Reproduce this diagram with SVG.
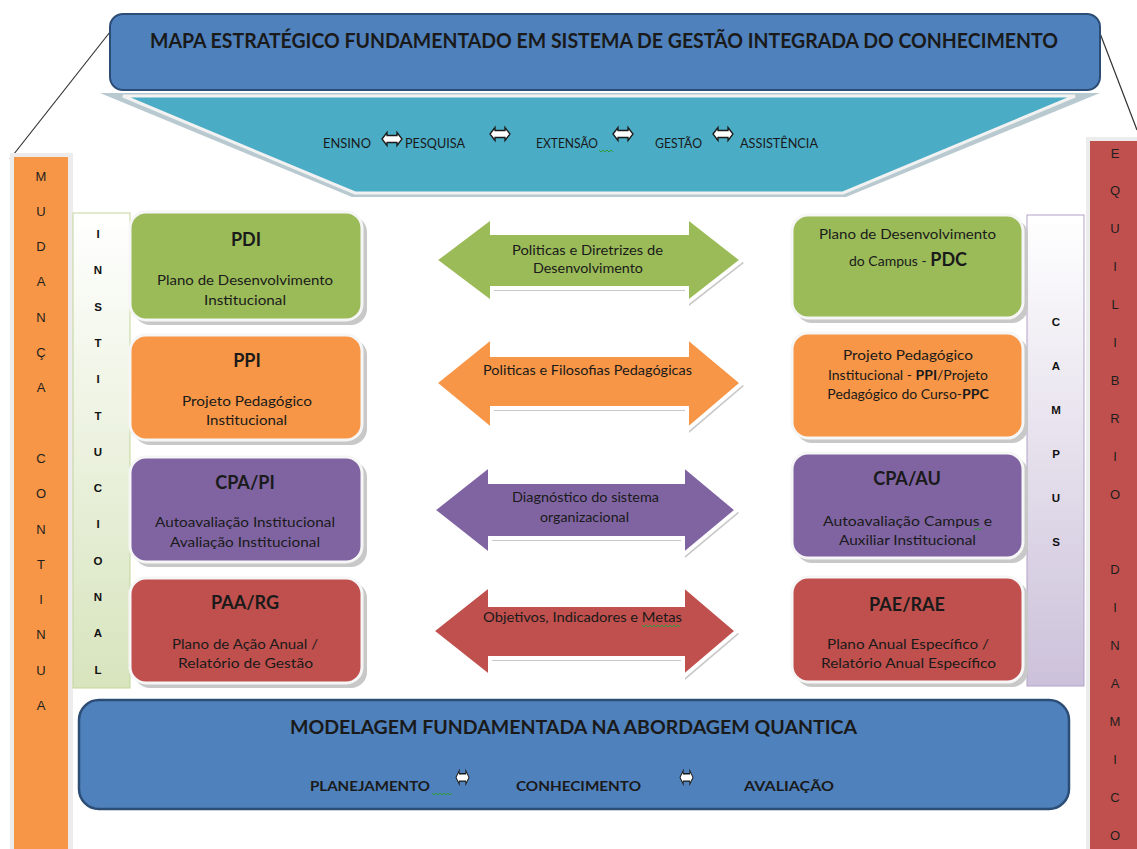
<svg xmlns="http://www.w3.org/2000/svg" width="1137" height="849" viewBox="0 0 1137 849">
<style>
.t{font-family:Lato,"Open Sans","Liberation Sans",sans-serif;fill:#1a1a1a}
.b{font-weight:bold}
.s{font-family:"Liberation Sans",Arial,sans-serif;font-size:13px;fill:#1e1e1e;text-anchor:middle}
.sb{font-family:"Liberation Sans",Arial,sans-serif;font-size:11.5px;font-weight:bold;fill:#111;text-anchor:middle}
.m{text-anchor:middle}
.sh{fill:#c8c8c8}
.bx{stroke:#f6f6f6;stroke-width:3}
.ar{stroke:#ffffff;stroke-width:4;stroke-linejoin:miter}
.ico{fill:#ffffff;stroke:#1a1a1a;stroke-width:1.3}
.sq{fill:none;stroke:#2f9a3a;stroke-width:1}
</style>
<defs>
<linearGradient id="gInst" x1="0" y1="0" x2="0" y2="1"><stop offset="0" stop-color="#ffffff"/><stop offset="1" stop-color="#d7e4bd"/></linearGradient>
<linearGradient id="gCamp" x1="0" y1="0" x2="0" y2="1"><stop offset="0" stop-color="#ffffff"/><stop offset="1" stop-color="#ccc1da"/></linearGradient>
<path id="ico" d="M0,8 L5,1.5 L5,4.5 L15,4.5 L15,1.5 L20,8 L15,14.5 L15,11.5 L5,11.5 L5,14.5 Z"/>
</defs>
<rect width="1137" height="849" fill="#ffffff"/>

<g id="connectors">
<line x1="110" y1="32" x2="10" y2="159" stroke="#333" stroke-width="1.2"/>
<line x1="1098" y1="28" x2="1137" y2="130" stroke="#333" stroke-width="1.2"/>
</g>

<g id="title-banner">
<rect x="110" y="14" width="990" height="76" rx="13" fill="#4f81bd" stroke="#2c4d75" stroke-width="2"/>
<text class="t b" x="150" y="48" font-size="20" textLength="908" lengthAdjust="spacingAndGlyphs">MAPA ESTRATÉGICO FUNDAMENTADO EM SISTEMA DE GESTÃO INTEGRADA DO CONHECIMENTO</text>
</g>

<g id="funnel">
<polygon points="100,93 1100,93 846,197 352,197" fill="#b9c9d0"/>
<polygon points="123,96 1075,96 843,193 355,193" fill="#4bacc6" stroke="#f2f2f2" stroke-width="3"/>
<text class="t" x="323" y="148" font-size="13" textLength="48" lengthAdjust="spacingAndGlyphs">ENSINO</text>
<use href="#ico" class="ico" x="382" y="131"/>
<text class="t" x="405" y="148" font-size="13" textLength="60" lengthAdjust="spacingAndGlyphs">PESQUISA</text>
<use href="#ico" class="ico" x="490" y="126"/>
<text class="t" x="536" y="148" font-size="13" textLength="62" lengthAdjust="spacingAndGlyphs">EXTENSÃO</text>
<path class="sq" d="M599,150 l2,2 l2,-2 l2,2 l2,-2 l2,2 l2,-2 l2,2"/>
<use href="#ico" class="ico" x="613" y="126"/>
<text class="t" x="655" y="148" font-size="13" textLength="47" lengthAdjust="spacingAndGlyphs">GESTÃO</text>
<use href="#ico" class="ico" x="713" y="126"/>
<text class="t" x="740" y="148" font-size="13" textLength="78" lengthAdjust="spacingAndGlyphs">ASSISTÊNCIA</text>
</g>

<g id="mudanca-continua">
<rect x="10" y="153" width="63" height="696" fill="#ececec"/>
<rect x="14" y="157" width="54" height="692" fill="#f79646"/>
<text class="s" x="41" y="180.5">M</text>
<text class="s" x="41" y="215.8">U</text>
<text class="s" x="41" y="251.1">D</text>
<text class="s" x="41" y="286.4">A</text>
<text class="s" x="41" y="321.7">N</text>
<text class="s" x="41" y="357">Ç</text>
<text class="s" x="41" y="392.3">A</text>
<text class="s" x="41" y="462.9">C</text>
<text class="s" x="41" y="498.2">O</text>
<text class="s" x="41" y="533.5">N</text>
<text class="s" x="41" y="568.8">T</text>
<text class="s" x="41" y="604.1">I</text>
<text class="s" x="41" y="639.4">N</text>
<text class="s" x="41" y="674.7">U</text>
<text class="s" x="41" y="710">A</text>
</g>

<g id="equilibrio-dinamico">
<rect x="1086" y="137" width="51" height="712" fill="#ececec"/>
<rect x="1090" y="141" width="47" height="708" fill="#c0504d"/>
<text class="s" x="1115" y="157.5">E</text>
<text class="s" x="1115" y="195.4">Q</text>
<text class="s" x="1115" y="233.3">U</text>
<text class="s" x="1115" y="271.2">I</text>
<text class="s" x="1115" y="309.1">L</text>
<text class="s" x="1115" y="347">I</text>
<text class="s" x="1115" y="384.9">B</text>
<text class="s" x="1115" y="422.8">R</text>
<text class="s" x="1115" y="460.7">I</text>
<text class="s" x="1115" y="498.6">O</text>
<text class="s" x="1115" y="574.4">D</text>
<text class="s" x="1115" y="612.3">I</text>
<text class="s" x="1115" y="650.2">N</text>
<text class="s" x="1115" y="688.1">A</text>
<text class="s" x="1115" y="726">M</text>
<text class="s" x="1115" y="763.9">I</text>
<text class="s" x="1115" y="801.8">C</text>
<text class="s" x="1115" y="839.7">O</text>
</g>

<g id="institucional">
<rect x="73" y="213" width="57" height="475" fill="url(#gInst)" stroke="#c3d69b" stroke-width="1"/>
<text class="sb" x="98" y="238">I</text>
<text class="sb" x="98" y="274.3">N</text>
<text class="sb" x="98" y="310.6">S</text>
<text class="sb" x="98" y="346.9">T</text>
<text class="sb" x="98" y="383.2">I</text>
<text class="sb" x="98" y="419.5">T</text>
<text class="sb" x="98" y="455.8">U</text>
<text class="sb" x="98" y="492.1">C</text>
<text class="sb" x="98" y="528.4">I</text>
<text class="sb" x="98" y="564.7">O</text>
<text class="sb" x="98" y="601">N</text>
<text class="sb" x="98" y="637.3">A</text>
<text class="sb" x="98" y="673.6">L</text>
</g>

<g id="campus">
<rect x="1027" y="215" width="57" height="471" fill="url(#gCamp)" stroke="#b3a2c7" stroke-width="1"/>
<text class="sb" x="1056" y="325.5">C</text>
<text class="sb" x="1056" y="369.5">A</text>
<text class="sb" x="1056" y="413.5">M</text>
<text class="sb" x="1056" y="457.5">P</text>
<text class="sb" x="1056" y="501.5">U</text>
<text class="sb" x="1056" y="545.5">S</text>
</g>

<g id="pdi">
<rect class="sh" x="134" y="216" width="233" height="109" rx="16"/>
<rect class="bx" x="130" y="212" width="232" height="108" rx="16" fill="#9bbb59"/>
<text class="t b m" x="246" y="246" font-size="18">PDI</text>
<text class="t" x="157" y="285" font-size="14" textLength="176" lengthAdjust="spacingAndGlyphs">Plano de Desenvolvimento</text>
<text class="t" x="204" y="305" font-size="14" textLength="82" lengthAdjust="spacingAndGlyphs">Institucional</text>
</g>

<g id="ppi">
<rect class="sh" x="134" y="339" width="233" height="106" rx="16"/>
<rect class="bx" x="130" y="335" width="232" height="105" rx="16" fill="#f79646"/>
<text class="t b m" x="247" y="367" font-size="18">PPI</text>
<text class="t" x="182" y="406" font-size="14" textLength="130" lengthAdjust="spacingAndGlyphs">Projeto Pedagógico</text>
<text class="t" x="206" y="425" font-size="14" textLength="81" lengthAdjust="spacingAndGlyphs">Institucional</text>
</g>

<g id="cpa-pi">
<rect class="sh" x="134" y="461" width="233" height="106" rx="16"/>
<rect class="bx" x="130" y="457" width="232" height="105" rx="16" fill="#8064a2"/>
<text class="t b m" x="245" y="489" font-size="18">CPA/PI</text>
<text class="t" x="155" y="527" font-size="14" textLength="180" lengthAdjust="spacingAndGlyphs">Autoavaliação Institucional</text>
<text class="t" x="170" y="547" font-size="14" textLength="150" lengthAdjust="spacingAndGlyphs">Avaliação Institucional</text>
</g>

<g id="paa-rg">
<rect class="sh" x="134" y="582" width="233" height="106" rx="16"/>
<rect class="bx" x="130" y="578" width="232" height="105" rx="16" fill="#c0504d"/>
<text class="t b m" x="245" y="609" font-size="18">PAA/RG</text>
<text class="t" x="172" y="649" font-size="14" textLength="146" lengthAdjust="spacingAndGlyphs">Plano de Ação Anual /</text>
<text class="t" x="178" y="668" font-size="14" textLength="135" lengthAdjust="spacingAndGlyphs">Relatório de Gestão</text>
</g>

<g id="pdc">
<rect class="sh" x="796" y="219" width="232" height="104" rx="16"/>
<rect class="bx" x="792" y="215" width="231" height="103" rx="16" fill="#9bbb59"/>
<text class="t" x="819" y="239" font-size="14" textLength="177" lengthAdjust="spacingAndGlyphs">Plano de Desenvolvimento</text>
<text class="t m" x="908" y="266" font-size="14">do Campus - <tspan class="b" font-size="18">PDC</tspan></text>
</g>

<g id="ppi-ppc">
<rect class="sh" x="796" y="337" width="232" height="106" rx="16"/>
<rect class="bx" x="792" y="333" width="231" height="105" rx="16" fill="#f79646"/>
<text class="t" x="843" y="360" font-size="14" textLength="130" lengthAdjust="spacingAndGlyphs">Projeto Pedagógico</text>
<text class="t m" x="908" y="380" font-size="14">Institucional - <tspan class="b">PPI</tspan>/Projeto</text>
<text class="t m" x="908" y="399" font-size="14">Pedagógico do Curso-<tspan class="b">PPC</tspan></text>
</g>

<g id="cpa-au">
<rect class="sh" x="796" y="457" width="232" height="106" rx="16"/>
<rect class="bx" x="792" y="453" width="231" height="105" rx="16" fill="#8064a2"/>
<text class="t b m" x="907" y="485" font-size="18">CPA/AU</text>
<text class="t" x="823" y="526" font-size="14" textLength="169" lengthAdjust="spacingAndGlyphs">Autoavaliação Campus  e</text>
<path class="sq" d="M974,528 l2,2 l2,-2 l2,2 l2,-2"/>
<text class="t" x="839" y="545" font-size="14" textLength="137" lengthAdjust="spacingAndGlyphs">Auxiliar Institucional</text>
</g>

<g id="pae-rae">
<rect class="sh" x="796" y="581" width="232" height="106" rx="16"/>
<rect class="bx" x="792" y="577" width="231" height="105" rx="16" fill="#c0504d"/>
<text class="t b m" x="907" y="611" font-size="18">PAE/RAE</text>
<text class="t" x="827" y="649" font-size="14" textLength="162" lengthAdjust="spacingAndGlyphs">Plano Anual Específico /</text>
<text class="t" x="821" y="668" font-size="14" textLength="175" lengthAdjust="spacingAndGlyphs">Relatório Anual Específico</text>
</g>

<g id="arrow-politicas-diretrizes">
<polygon class="sh" transform="translate(2,3)" points="435,260 492,217 492,233 687,233 687,217 742,260 687,303 687,288 492,288 492,303"/>
<polygon class="ar" fill="#9bbb59" points="435,260 492,217 492,233 687,233 687,217 742,260 687,303 687,288 492,288 492,303"/>
<text class="t" x="512" y="255" font-size="12.5" textLength="151" lengthAdjust="spacingAndGlyphs">Politicas e Diretrizes de</text>
<text class="t" x="533" y="273" font-size="12.5" textLength="110" lengthAdjust="spacingAndGlyphs">Desenvolvimento</text>
</g>

<g id="arrow-politicas-filosofias">
<polygon class="sh" transform="translate(2,3)" points="435,383 492,337 492,355 687,355 687,337 742,383 687,430 687,408 492,408 492,430"/>
<polygon class="ar" fill="#f79646" points="435,383 492,337 492,355 687,355 687,337 742,383 687,430 687,408 492,408 492,430"/>
<text class="t" x="483" y="375" font-size="12.5" textLength="209" lengthAdjust="spacingAndGlyphs">Politicas e Filosofias Pedagógicas</text>
</g>

<g id="arrow-diagnostico">
<polygon class="sh" transform="translate(2,3)" points="433,510 490,465 490,482 683,482 683,465 737,510 683,555 683,538 490,538 490,555"/>
<polygon class="ar" fill="#8064a2" points="433,510 490,465 490,482 683,482 683,465 737,510 683,555 683,538 490,538 490,555"/>
<text class="t" x="512" y="502" font-size="12.5" textLength="147" lengthAdjust="spacingAndGlyphs">Diagnóstico do sistema</text>
<text class="t" x="540" y="522" font-size="12.5" textLength="89" lengthAdjust="spacingAndGlyphs">organizacional</text>
</g>

<g id="arrow-objetivos">
<polygon class="sh" transform="translate(2,3)" points="432,631 490,585 490,605 683,605 683,585 737,631 683,677 683,658 490,658 490,677"/>
<polygon class="ar" fill="#c0504d" points="432,631 490,585 490,605 683,605 683,585 737,631 683,677 683,658 490,658 490,677"/>
<text class="t" x="483" y="622" font-size="12.5" textLength="199" lengthAdjust="spacingAndGlyphs">Objetivos, Indicadores e Metas</text>
<path class="sq" d="M642,625 l2,2 l2,-2 l2,2 l2,-2 l2,2 l2,-2 l2,2 l2,-2 l2,2 l2,-2 l2,2 l2,-2 l2,2 l2,-2 l2,2 l2,-2 l2,2 l2,-2 l2,2"/>
</g>

<g id="modelagem-banner">
<rect x="79" y="700" width="990" height="109" rx="20" fill="#4f81bd" stroke="#2c4d75" stroke-width="2.5"/>
<text class="t b" x="290" y="734" font-size="18" textLength="567" lengthAdjust="spacingAndGlyphs">MODELAGEM FUNDAMENTADA NA ABORDAGEM QUANTICA</text>
<text class="t b" x="310" y="791" font-size="14" textLength="120" lengthAdjust="spacingAndGlyphs">PLANEJAMENTO</text>
<path class="sq" d="M432,793 l2,2 l2,-2 l2,2 l2,-2 l2,2 l2,-2 l2,2 l2,-2 l2,2 l2,-2"/>
<use href="#ico" class="ico" transform="translate(456,769) scale(0.65,1.05)"/>
<text class="t b" x="516" y="791" font-size="14" textLength="125" lengthAdjust="spacingAndGlyphs">CONHECIMENTO</text>
<use href="#ico" class="ico" transform="translate(680,769) scale(0.65,1.05)"/>
<text class="t b" x="744" y="791" font-size="14" textLength="90" lengthAdjust="spacingAndGlyphs">AVALIAÇÃO</text>
</g>
</svg>
